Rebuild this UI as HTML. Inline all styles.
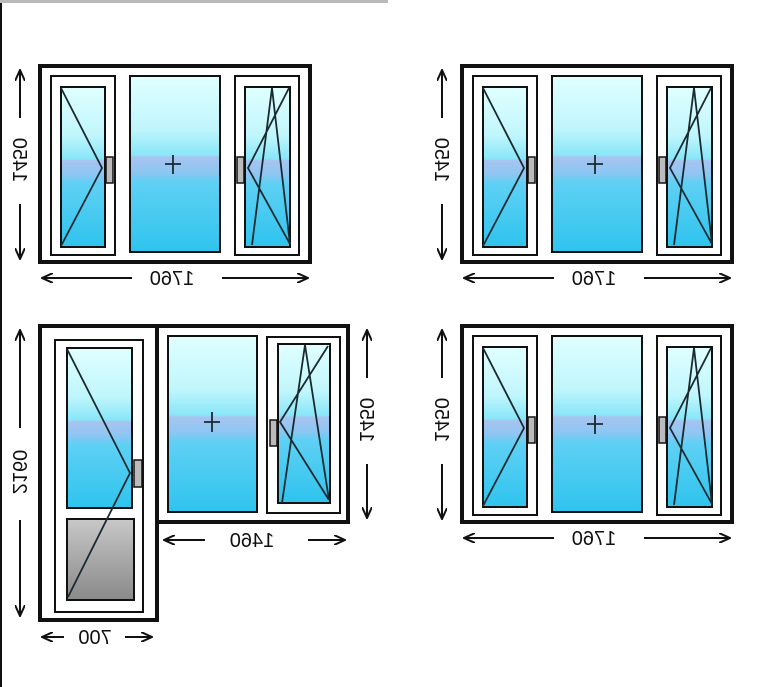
<!DOCTYPE html>
<html><head><meta charset="utf-8"><style>
html,body{margin:0;padding:0;background:#fff;width:770px;height:687px;overflow:hidden}
svg{display:block}
text{font-family:"Liberation Sans",sans-serif;font-size:20px;fill:#111}
</style></head><body>
<svg width="770" height="687" viewBox="0 0 770 687" xmlns="http://www.w3.org/2000/svg">
<defs>
<linearGradient id="g" x1="0" y1="0" x2="0" y2="1">
<stop offset="0" stop-color="#e0ffff"/>
<stop offset="0.3" stop-color="#c0f6fc"/>
<stop offset="0.45" stop-color="#88e6f8"/>
<stop offset="0.46" stop-color="#a8c4f0"/>
<stop offset="0.55" stop-color="#8cc6f2"/>
<stop offset="0.6" stop-color="#60d0f4"/>
<stop offset="1" stop-color="#2ec4ee"/>
</linearGradient>
<linearGradient id="gr" x1="0" y1="0" x2="0" y2="1">
<stop offset="0" stop-color="#c8c8c8"/>
<stop offset="0.5" stop-color="#a8a8a8"/>
<stop offset="1" stop-color="#8a8a8a"/>
</linearGradient>
<marker id="a" markerWidth="12" markerHeight="10" refX="11" refY="5" orient="auto" markerUnits="userSpaceOnUse">
<path d="M0,0 L11,5 L0,10" fill="none" stroke="#111" stroke-width="2"/>
</marker>
<g id="win">
<rect x="40" y="66" width="270" height="196" fill="#fff" stroke="#111" stroke-width="4"/>
<rect x="51" y="76" width="64" height="179" fill="#fff" stroke="#111" stroke-width="2"/>
<rect x="61" y="87" width="44" height="160" fill="url(#g)" stroke="#111" stroke-width="2"/>
<rect x="130" y="76" width="90" height="176" fill="url(#g)" stroke="#111" stroke-width="2"/>
<rect x="235" y="76" width="64" height="179" fill="#fff" stroke="#111" stroke-width="2"/>
<rect x="245" y="87" width="45" height="160" fill="url(#g)" stroke="#111" stroke-width="2"/>
<rect x="106" y="157" width="7" height="26" fill="#bbb" stroke="#111" stroke-width="1.5"/>
<rect x="237" y="157" width="7" height="26" fill="#bbb" stroke="#111" stroke-width="1.5"/>
<path d="M61,88 L102,168 L61,246 M289,88 L248,168 L290,244 M272,88 L252,245 M272,88 L290,244 M165,164 L181,164 M173,155 L173,174" fill="none" stroke="#1a2a30" stroke-width="1.8"/>
<line x1="20" y1="118" x2="20" y2="70" stroke="#111" stroke-width="2" marker-end="url(#a)"/>
<line x1="20" y1="204" x2="20" y2="259" stroke="#111" stroke-width="2" marker-end="url(#a)"/>
<line x1="132" y1="278" x2="42" y2="278" stroke="#111" stroke-width="2" marker-end="url(#a)"/>
<line x1="222" y1="278" x2="308" y2="278" stroke="#111" stroke-width="2" marker-end="url(#a)"/>
</g>
</defs>
<rect x="0" y="0" width="2" height="687" fill="#111"/>
<rect x="0" y="0" width="388" height="3" fill="#bbb"/>

<use href="#win"/>
<text transform="translate(20,160) rotate(-90) scale(1,-1)" text-anchor="middle" dy="7">1450</text>
<text transform="translate(172,278) scale(-1,1)" text-anchor="middle" dy="7">1760</text>

<use href="#win" transform="translate(422,0)"/>
<text transform="translate(442,160) rotate(-90) scale(1,-1)" text-anchor="middle" dy="7">1450</text>
<text transform="translate(594,278) scale(-1,1)" text-anchor="middle" dy="7">1760</text>

<use href="#win" transform="translate(422,260)"/>
<text transform="translate(442,420) rotate(-90) scale(1,-1)" text-anchor="middle" dy="7">1450</text>
<text transform="translate(594,538) scale(-1,1)" text-anchor="middle" dy="7">1760</text>

<!-- door + window -->
<rect x="157" y="326" width="191" height="196" fill="#fff" stroke="#111" stroke-width="4"/>
<rect x="40" y="326" width="117" height="294" fill="#fff" stroke="#111" stroke-width="4"/>
<rect x="55" y="340" width="88" height="272" fill="#fff" stroke="#111" stroke-width="2"/>
<rect x="67" y="348" width="65" height="160" fill="url(#g)" stroke="#111" stroke-width="2"/>
<rect x="67" y="519" width="67" height="81" fill="url(#gr)" stroke="#111" stroke-width="2"/>
<rect x="134" y="460" width="8" height="27" fill="#bbb" stroke="#111" stroke-width="1.5"/>
<path d="M67,349 L130,473 L68,597" fill="none" stroke="#1a2a30" stroke-width="1.8"/>
<rect x="168" y="336" width="89" height="176" fill="url(#g)" stroke="#111" stroke-width="2"/>
<rect x="267" y="337" width="73" height="176" fill="#fff" stroke="#111" stroke-width="2"/>
<rect x="278" y="344" width="52" height="159" fill="url(#g)" stroke="#111" stroke-width="2"/>
<rect x="270" y="420" width="7" height="26" fill="#bbb" stroke="#111" stroke-width="1.5"/>
<path d="M328,346 L280,422 L329,500 M305,345 L282,503 M305,345 L329,500 M204,422 L220,422 M212,412 L212,432" fill="none" stroke="#1a2a30" stroke-width="1.8"/>

<line x1="20" y1="428" x2="20" y2="330" stroke="#111" stroke-width="2" marker-end="url(#a)"/>
<line x1="20" y1="520" x2="20" y2="616" stroke="#111" stroke-width="2" marker-end="url(#a)"/>
<text transform="translate(20,472) rotate(-90) scale(1,-1)" text-anchor="middle" dy="7">2160</text>
<line x1="64" y1="637" x2="42" y2="637" stroke="#111" stroke-width="2" marker-end="url(#a)"/>
<line x1="125" y1="637" x2="152" y2="637" stroke="#111" stroke-width="2" marker-end="url(#a)"/>
<text transform="translate(95,637) scale(-1,1)" text-anchor="middle" dy="7">700</text>
<line x1="205" y1="540" x2="164" y2="540" stroke="#111" stroke-width="2" marker-end="url(#a)"/>
<line x1="308" y1="540" x2="345" y2="540" stroke="#111" stroke-width="2" marker-end="url(#a)"/>
<text transform="translate(252,540) scale(-1,1)" text-anchor="middle" dy="7">1460</text>
<line x1="367" y1="378" x2="367" y2="330" stroke="#111" stroke-width="2" marker-end="url(#a)"/>
<line x1="367" y1="464" x2="367" y2="518" stroke="#111" stroke-width="2" marker-end="url(#a)"/>
<text transform="translate(367,420) rotate(-90) scale(1,-1)" text-anchor="middle" dy="7">1450</text>
</svg>
</body></html>
